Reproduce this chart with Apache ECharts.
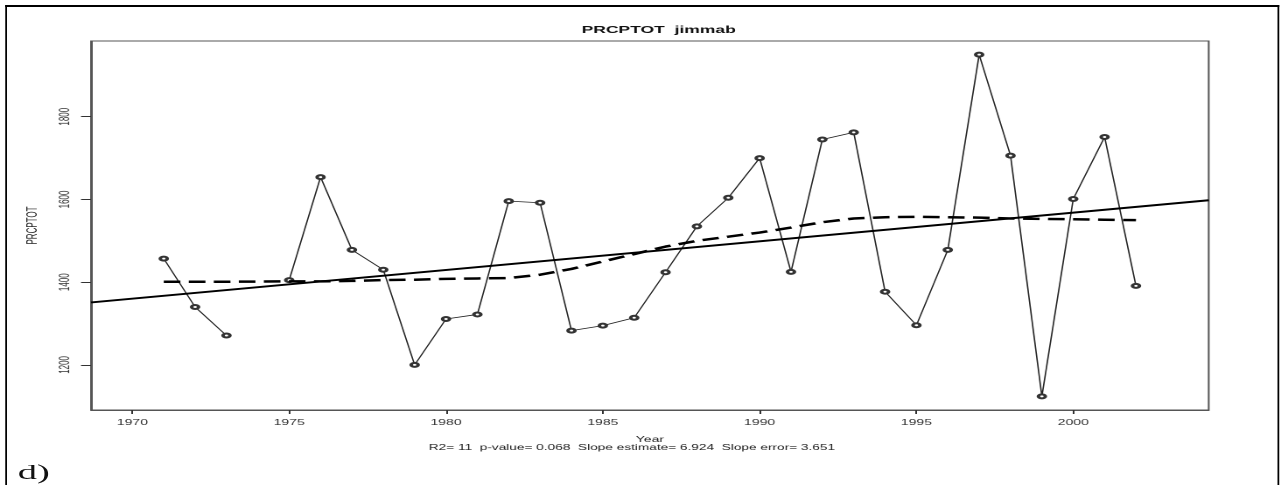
<!DOCTYPE html>
<html>
<head>
<meta charset="utf-8">
<script src="https://cdn.jsdelivr.net/npm/echarts@6/dist/echarts.min.js"></script>
<style>
  html, body { margin: 0; padding: 0; background: #fff; overflow: hidden; }
  body { width: 1283px; height: 485px; position: relative; }
  /* the page is laid out on a narrow sheet and widened horizontally */
  #sheet {
    position: absolute; left: 0; top: 0;
    width: 733.14px; height: 485px;
    transform: scaleX(1.75); transform-origin: 0 0;
  }
  #frame {
    position: absolute; left: 2.7px; top: 5px;
    width: 726.6px; height: 520px;
    border-left: 1.5px solid #000; border-top: 2px solid #000; border-right: 1.2px solid #000;
  }
  #label {
    position: absolute; left: 10.2px; top: 458px;
    font-family: "Liberation Serif", "Times New Roman", serif; font-size: 22px; font-weight: normal; color: #111;
    line-height: 28px;
  }
  #chart { position: absolute; left: 0; top: 0; width: 733.14px; height: 485px; }
</style>
</head>
<body>
<div id="sheet">
  <div id="frame"></div>
  <div id="label">d)</div>
  <div id="chart"></div>
</div>
<script>
// Annual total precipitation (PRCPTOT) at the jimmab station
const years = [1971, 1972, 1973, 1974, 1975, 1976, 1977, 1978, 1979, 1980,
               1981, 1982, 1983, 1984, 1985, 1986, 1987, 1988, 1989, 1990,
               1991, 1992, 1993, 1994, 1995, 1996, 1997, 1998, 1999, 2000,
               2001, 2002];
const prcptot = [1457, 1340, 1271, null, 1405, 1654, 1478, 1430, 1200, 1311,
                 1322, 1596, 1592, 1283, 1295, 1314, 1424, 1535, 1604, 1700,
                 1425, 1745, 1762, 1377, 1296, 1478, 1950, 1706, 1124, 1601,
                 1751, 1391];

// Local smooth of the series (1974 is missing)
const smoothYears = [1971, 1972, 1973, 1975, 1976, 1977, 1978, 1979, 1980, 1981,
                     1982, 1983, 1984, 1985, 1986, 1987, 1988, 1989, 1990, 1991,
                     1992, 1993, 1994, 1995, 1996, 1997, 1998, 1999, 2000, 2001,
                     2002];
const smoothValues = [1401, 1401, 1401, 1402, 1402, 1403, 1405, 1406, 1408, 1409,
                      1410, 1418, 1432, 1450, 1468, 1486, 1500, 1510, 1520, 1532,
                      1545, 1554, 1557, 1558, 1557, 1556, 1554, 1553, 1552, 1551,
                      1550];

// Least-squares trend line, drawn across the whole plotting range
const trendYears = [1968.68, 2004.32];
const trendValues = [1351, 1598];

// Axis ranges and ticks
const xRange = [1968.68, 2004.32];
const yRange = [1091, 1983];
const xTicks = [1970, 1975, 1980, 1985, 1990, 1995, 2000];
const yTicks = [1200, 1400, 1600, 1800];

const titleText = 'PRCPTOT  jimmab';
const xName = 'Year';
const yName = 'PRCPTOT';
const statsText = 'R2= 11  p-value= 0.068  Slope estimate= 6.924  Slope error= 3.651';

const pair = (xs, ys) => xs.map((x, i) => [x, ys[i]]);
const plain = v => String(v);

const FONT = '"Liberation Sans", Arial, sans-serif';
const AXIS_GREY = '#555';

const chart = echarts.init(document.getElementById('chart'), null, {
  renderer: 'canvas', devicePixelRatio: 2
});

chart.setOption({
  animation: false,
  backgroundColor: 'transparent',
  title: {
    text: titleText,
    left: 371.4, top: 20, textAlign: 'center',
    textStyle: { fontFamily: FONT, fontSize: 10, fontWeight: 'bold', color: '#111' }
  },
  grid: {
    left: 52, right: 42.3, top: 41, bottom: 75,
    show: true, borderColor: AXIS_GREY, borderWidth: 1, backgroundColor: 'transparent'
  },
  xAxis: {
    type: 'value', min: xRange[0], max: xRange[1],
    name: xName, nameLocation: 'middle', nameGap: 26,
    nameTextStyle: { fontFamily: FONT, fontSize: 8, color: '#222' },
    axisLine: { show: true, lineStyle: { color: AXIS_GREY, width: 1 } },
    axisTick: { show: true, customValues: xTicks, length: 4, lineStyle: { color: '#333' } },
    axisLabel: { customValues: xTicks, formatter: plain, margin: 9, fontFamily: FONT, fontSize: 8, color: '#333' },
    splitLine: { show: false }
  },
  yAxis: {
    type: 'value', min: yRange[0], max: yRange[1],
    name: yName, nameLocation: 'middle', nameRotate: 90, nameGap: 29,
    nameTextStyle: { fontFamily: FONT, fontSize: 8, color: '#222' },
    axisLine: { show: true, lineStyle: { color: AXIS_GREY, width: 1 } },
    axisTick: { show: true, customValues: yTicks, length: 5.7, lineStyle: { color: '#333' } },
    axisLabel: { customValues: yTicks, formatter: plain, rotate: 90, margin: 10.5, fontFamily: FONT, fontSize: 8, color: '#333' },
    splitLine: { show: false }
  },
  graphic: [{
    type: 'text',
    style: {
      text: statsText, x: 361.1, y: 448, align: 'center', verticalAlign: 'middle',
      font: '7.8px "Liberation Sans", Arial, sans-serif', fill: '#222'
    }
  }],
  series: [
    {
      name: 'PRCPTOT', type: 'line', data: pair(years, prcptot),
      connectNulls: false,
      symbol: 'emptyCircle', symbolSize: 4, showSymbol: true,
      lineStyle: { color: '#222', width: 0.8 },
      itemStyle: { color: '#333', borderColor: '#333', borderWidth: 0.5 },
      z: 2
    },
    {
      name: 'trend', type: 'line', data: pair(trendYears, trendValues),
      symbol: 'none', lineStyle: { color: '#000', width: 2 }, z: 3
    },
    {
      name: 'smooth', type: 'line', data: pair(smoothYears, smoothValues),
      symbol: 'none', smooth: false,
      lineStyle: { color: '#000', width: 2.5, type: [9.5, 4.8] }, z: 4
    }
  ]
});
</script>
</body>
</html>
